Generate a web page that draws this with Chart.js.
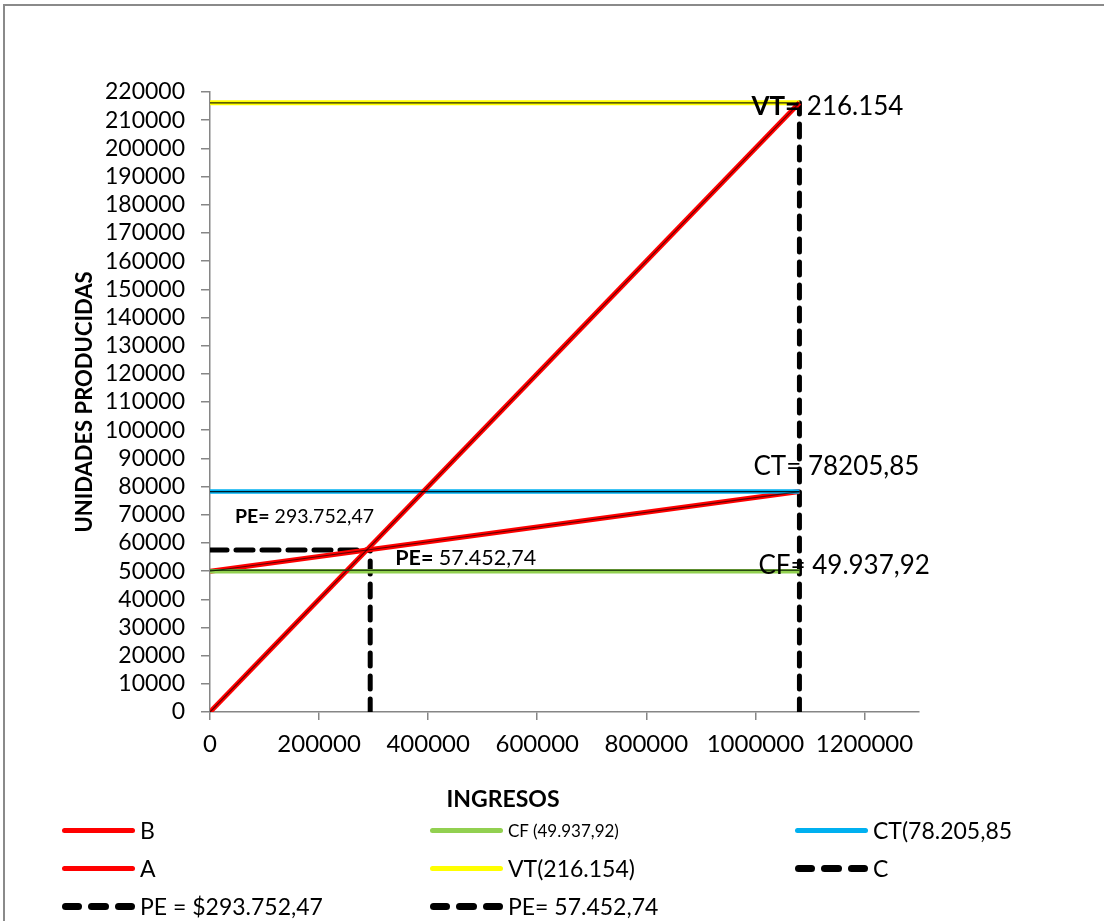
<!DOCTYPE html>
<html><head><meta charset="utf-8">
<script src="https://cdn.jsdelivr.net/npm/chart.js@4.4.1/dist/chart.umd.min.js"></script>
<style>
html,body{margin:0;padding:0;background:#fff;overflow:hidden;}
#wrap{position:relative;width:1104px;height:921px;overflow:hidden;background:#fff;}
#frame{position:absolute;left:3px;top:4px;width:1200px;height:1000px;border:2px solid #8a8a8a;box-sizing:border-box;}
#chart{position:absolute;left:0;top:0;}
#xtitle{position:absolute;left:0;width:1006px;top:784px;text-align:center;font:bold 23px Lato;color:#000;}
#legend{position:absolute;left:62px;top:811px;display:grid;grid-template-columns:368px 365px 300px;grid-auto-rows:38px;font-family:Lato;font-size:23px;color:#000;}
.item{display:flex;align-items:center;white-space:nowrap;}
.swatch{width:73px;height:5px;border-radius:3px;margin-right:5px;}
.dash{display:flex;gap:6px;width:73px;margin-right:5px;}
.dash span{flex:1;height:7px;background:#000;border-radius:4px;}
</style>
</head><body>
<div id="wrap">
  <div id="frame"></div>
  <canvas id="chart" width="1104" height="921"></canvas>
  <div id="xtitle">INGRESOS</div>
  <div id="legend"></div>
</div>
<script>
// ---- data ----
const xIngresos = [0, 1080770];
const yB  = [0, 216154];
const yA  = [49937.92, 78205.85];
const yCF = [49937.92, 49937.92];
const yCT = [78205.85, 78205.85];
const yVT = [216154, 216154];
const xC  = [1080770, 1080770];
const yC  = [0, 216154];
const xPE1 = [293752.47, 293752.47];
const yPE1 = [0, 57452.74];
const xPE2 = [0, 293752.47];
const yPE2 = [57452.74, 57452.74];
const xTicks = [0, 200000, 400000, 600000, 800000, 1000000, 1200000];
const xMax = 1300000;
const yMax = 220000;
const yStep = 10000;
const seriesLabels = ['B', 'CF (49.937,92)', 'CT(78.205,85', 'A', 'VT(216.154)', 'C', 'PE = $293.752,47', 'PE= 57.452,74'];
// annotation texts
const annBold = ['VT=', 'CT=', 'CF=', 'PE=', 'PE='];
const annText = [' 216.154', ' 78205,85', ' 49.937,92', ' 293.752,47', ' 57.452,74'];

const pts = (xs, ys) => xs.map((x, i) => ({x: x, y: ys[i]}));

const FONT = 'Lato';

const datasets = [
  {label: seriesLabels[0], data: pts(xIngresos, yB),  borderColor: '#ff0000', borderWidth: 5, core: 'rgba(0,0,0,0.6)', coreW: 1.1},
  {label: seriesLabels[1], data: pts(xIngresos, yCF), borderColor: '#92d050', borderWidth: 4.5, core: 'rgba(30,60,10,0.9)', coreOff: -1},
  {label: seriesLabels[2], data: pts(xIngresos, yCT), borderColor: '#00b0f0', borderWidth: 4.5, core: 'rgba(0,0,0,0.85)'},
  {label: seriesLabels[3], data: pts(xIngresos, yA),  borderColor: '#ff0000', borderWidth: 5, core: 'rgba(0,0,0,0.6)', coreW: 1.1},
  {label: seriesLabels[4], data: pts(xIngresos, yVT), borderColor: '#ffff00', borderWidth: 5, core: 'rgba(0,0,0,0.85)'},
  {label: seriesLabels[5], data: pts(xC, yC),     borderColor: '#000000', borderWidth: 5, borderDash: [13, 10], dashed: true},
  {label: seriesLabels[6], data: pts(xPE1, yPE1), borderColor: '#000000', borderWidth: 5, borderDash: [13, 10], dashed: true},
  {label: seriesLabels[7], data: pts(xPE2, yPE2), borderColor: '#000000', borderWidth: 5, borderDash: [17, 9], dashed: true}
];
datasets.forEach(d => { d.showLine = true; d.pointRadius = 0; d.pointHoverRadius = 0; d.fill = false; d.borderCapStyle = d.dashed ? 'round' : 'butt'; d.tension = 0; });

// thin dark core line drawn over solid lines
const corePlugin = {
  id: 'core',
  afterDatasetsDraw(chart) {
    const ctx = chart.ctx;
    chart.data.datasets.forEach((d, i) => {
      if (!d.core) return;
      const p = chart.getDatasetMeta(i).data;
      const off = d.coreOff || 0;
      ctx.save();
      ctx.strokeStyle = d.core;
      ctx.lineWidth = d.coreW || 1.4;
      ctx.beginPath();
      p.forEach((q, k) => k ? ctx.lineTo(q.x, q.y + off) : ctx.moveTo(q.x, q.y + off));
      ctx.stroke();
      ctx.restore();
    });
  }
};

// annotation texts and y-axis title
const textPlugin = {
  id: 'texts',
  afterDraw(chart) {
    const ctx = chart.ctx;
    const xs = chart.scales.x, ys = chart.scales.y;
    const anchors = [
      {x: xC[1], y: yVT[0], dx: -48, dy: 4, size: 26, boldW: 'bold'},
      {x: xC[1], y: yCT[0], dx: -46, dy: -25, size: 26, boldW: 'normal'},
      {x: xC[1], y: yCF[0], dx: -41, dy: -6, size: 26, boldW: 'normal'},
      {x: 0, y: yPE2[0], dx: 25, dy: -33, size: 19.5, boldW: 'bold'},
      {x: xPE1[0], y: yCF[0], dx: 25, dy: -13, size: 21.5, boldW: 'bold'}
    ];
    ctx.save();
    ctx.fillStyle = '#000';
    ctx.textBaseline = 'middle';
    ctx.textAlign = 'left';
    anchors.forEach((a, i) => {
      const px = xs.getPixelForValue(a.x) + a.dx;
      const py = ys.getPixelForValue(a.y) + a.dy;
      ctx.font = a.boldW + ' ' + a.size + 'px ' + FONT;
      ctx.fillText(annBold[i], px, py);
      const w = ctx.measureText(annBold[i]).width;
      ctx.font = 'normal ' + a.size + 'px ' + FONT;
      ctx.fillText(annText[i], px + w, py);
    });
    // y axis title
    const ca = chart.chartArea;
    ctx.translate(85, (ca.top + ca.bottom) / 2);
    ctx.rotate(-Math.PI / 2);
    ctx.textAlign = 'center';
    ctx.font = 'bold 22px ' + FONT;
    ctx.fillText('UNIDADES PRODUCIDAS', 0, 0);
    ctx.restore();
  }
};

const htmlLegend = {
  id: 'htmlLegend',
  afterUpdate(chart) {
    const box = document.getElementById('legend');
    box.innerHTML = '';
    chart.data.datasets.forEach(d => {
      const item = document.createElement('div');
      item.className = 'item';
      let sw;
      if (d.dashed) {
        sw = document.createElement('div');
        sw.className = 'dash';
        for (let k = 0; k < 3; k++) sw.appendChild(document.createElement('span'));
      } else {
        sw = document.createElement('div');
        sw.className = 'swatch';
        sw.style.background = d.borderColor;
      }
      const t = document.createElement('span');
      t.textContent = d.label;
      if (d.label.indexOf('CF') === 0) t.style.fontSize = '17px';
      item.appendChild(sw);
      item.appendChild(t);
      box.appendChild(item);
    });
  }
};

new Chart(document.getElementById('chart'), {
  type: 'scatter',
  data: {datasets: datasets},
  plugins: [corePlugin, textPlugin, htmlLegend],
  options: {
    responsive: false,
    animation: false,
    events: [],
    layout: {padding: {left: 0, top: 92, right: 185, bottom: 0}},
    plugins: {legend: {display: false}, tooltip: {enabled: false}},
    scales: {
      x: {
        type: 'linear', min: 0, max: xMax,
        afterBuildTicks: s => { s.ticks = xTicks.map(v => ({value: v})); },
        afterFit: s => { s.height = 921 - 712; },
        grid: {display: true, drawOnChartArea: false, drawTicks: true, tickLength: 8, color: '#868686', lineWidth: 1.5},
        border: {display: true, color: '#868686', width: 1.5},
        ticks: {color: '#000', font: {family: FONT, size: 24}, padding: 10, maxRotation: 0, autoSkip: false,
                callback: v => String(v)}
      },
      y: {
        type: 'linear', min: 0, max: yMax,
        afterFit: s => { s.width = 210; },
        grid: {display: true, drawOnChartArea: false, drawTicks: true, tickLength: 9, color: '#868686', lineWidth: 1.5},
        border: {display: true, color: '#868686', width: 1.5},
        ticks: {stepSize: yStep, color: '#000', font: {family: FONT, size: 23}, padding: 16, autoSkip: false,
                callback: v => String(v)}
      }
    }
  }
});
</script>
</body></html>
